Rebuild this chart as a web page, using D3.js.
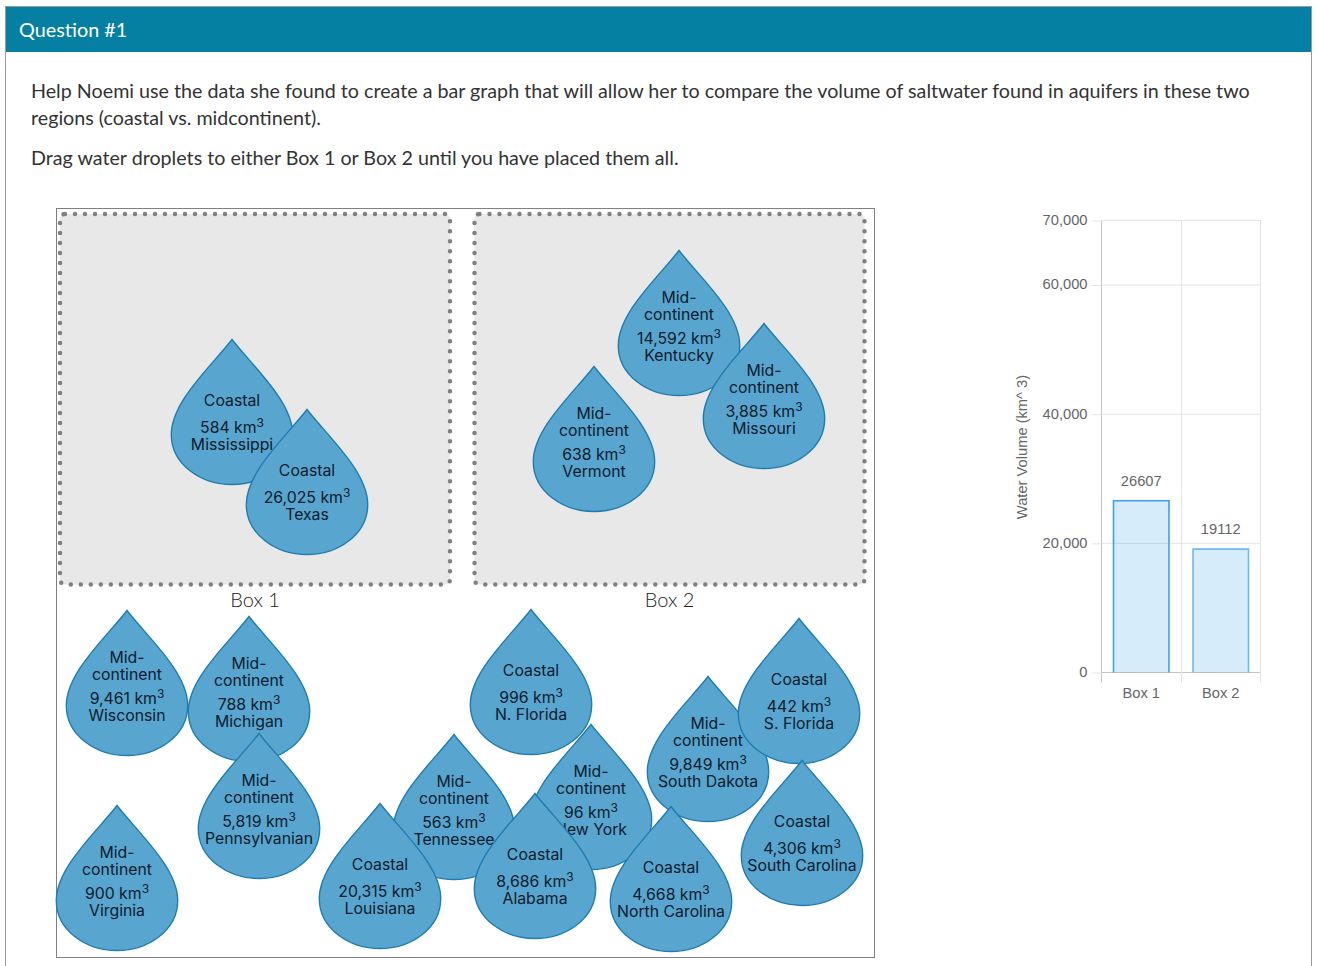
<!DOCTYPE html>
<html>
<head>
<meta charset="utf-8">
<script src="https://cdn.jsdelivr.net/npm/d3@7"></script>
<style>
html, body { margin: 0; padding: 0; background: #fff; overflow: hidden; }
svg { display: block; }
.para { font-family: Lato, sans-serif; font-size: 19.7px; fill: #333; }
.drop-text { font-family: Inter, sans-serif; font-size: 15.8px; fill: #0a1c2b; text-anchor: middle; }
.chart-text { font-family: "Liberation Sans", Arial, sans-serif; font-size: 14.7px; fill: #666; }
</style>
</head>
<body>
<script>
// bar chart values
var boxes = ["Box 1", "Box 2"];
var boxTotals = [26607, 19112];
var yTicks = [0, 20000, 40000, 60000, 70000];

// droplets, in drawing order (later ones sit on top)
var dropRegions = ["Coastal", "Coastal", "Mid-continent", "Mid-continent", "Mid-continent",
	"Mid-continent", "Mid-continent", "Mid-continent", "Mid-continent", "Coastal",
	"Mid-continent", "Coastal", "Mid-continent", "Mid-continent", "Coastal", "Coastal", "Coastal", "Coastal"];
var dropVolumes = ["584", "26,025", "14,592", "3,885", "638",
	"9,461", "788", "5,819", "900", "996",
	"563", "20,315", "96", "9,849", "8,686", "442", "4,306", "4,668"];
var dropPlaces = ["Mississippi", "Texas", "Kentucky", "Missouri", "Vermont",
	"Wisconsin", "Michigan", "Pennsylvanian", "Virginia", "N. Florida",
	"Tennessee", "Louisiana", "New York", "South Dakota", "Alabama", "S. Florida", "South Carolina", "North Carolina"];
var dropTipX = [232, 307, 679, 764, 594, 127, 249, 259, 117, 531, 454, 380, 591, 708, 535, 799, 802, 671];
var dropTipY = [339.5, 409.5, 250.5, 323.5, 366.5, 610.5, 616.5, 733.5, 805.5, 609.5, 734.5, 803.5, 724.5, 676.5, 793.5, 618.5, 760.5, 806.5];

var w = 1318, h = 966;
var svg = d3.select("body").append("svg").attr("width", w).attr("height", h);

// panel and header
svg.append("rect").attr("x", 5.5).attr("y", 6.5).attr("width", 1306).attr("height", 980)
	.attr("fill", "#fff").attr("stroke", "#999");
svg.append("rect").attr("x", 6).attr("y", 7).attr("width", 1305).attr("height", 45).attr("fill", "#0580a2");
svg.append("text").attr("x", 19).attr("y", 37).attr("fill", "#fff")
	.style("font-family", "Lato, sans-serif").style("font-size", "19.8px").text("Question #1");

var lines = [
	["Help Noemi use the data she found to create a bar graph that will allow her to compare the volume of saltwater found in aquifers in these two", 98],
	["regions (coastal vs. midcontinent).", 125],
	["Drag water droplets to either Box 1 or Box 2 until you have placed them all.", 165]
];
svg.selectAll("text.para").data(lines).enter().append("text")
	.attr("class", "para").attr("x", 31)
	.attr("y", function (d) { return d[1]; })
	.text(function (d) { return d[0]; });

// work area with the two drop boxes
svg.append("rect").attr("x", 56.5).attr("y", 208.5).attr("width", 818).attr("height", 749)
	.attr("fill", "#fff").attr("stroke", "#808080");

var boxLeft = d3.scaleOrdinal().domain(boxes).range([60, 474.5]);
svg.selectAll("rect.box").data(boxes).enter().append("rect")
	.attr("class", "box")
	.attr("x", function (d) { return boxLeft(d); })
	.attr("y", 214)
	.attr("width", 390).attr("height", 370.5).attr("rx", 5)
	.attr("fill", "#e8e8e8").attr("stroke", "#808080").attr("stroke-width", 4.5)
	.attr("stroke-linecap", "round").attr("stroke-dasharray", "0 10");
svg.selectAll("text.boxlabel").data(boxes).enter().append("text")
	.attr("class", "boxlabel")
	.attr("x", function (d) { return boxLeft(d) + 195; })
	.attr("y", 607).attr("text-anchor", "middle").attr("fill", "#222")
	.style("font-family", "Lato, sans-serif").style("font-size", "20px").style("font-weight", 300)
	.text(function (d) { return d; });

// droplets
function dropPath() {
	var p = d3.path();
	p.moveTo(0, 0);
	p.bezierCurveTo(20, 26, 60.7, 62, 60.7, 95);
	p.bezierCurveTo(60.7, 125, 31, 145, 0, 145);
	p.bezierCurveTo(-31, 145, -60.7, 125, -60.7, 95);
	p.bezierCurveTo(-60.7, 62, -20, 26, 0, 0);
	p.closePath();
	return p.toString();
}

var drops = svg.selectAll("g.drop").data(dropPlaces).enter().append("g")
	.attr("class", "drop")
	.attr("transform", function (d, i) { return "translate(" + dropTipX[i] + "," + dropTipY[i] + ")"; });

drops.append("path").attr("d", dropPath())
	.attr("fill", "#58a5d0").attr("stroke", "#1f7cb0").attr("stroke-width", 1.4);

drops.each(function (d, i) {
	var g = d3.select(this);
	if (dropRegions[i] == "Coastal") {
		g.append("text").attr("class", "drop-text").attr("y", 66.5).text("Coastal");
	} else {
		g.append("text").attr("class", "drop-text").attr("y", 52).text("Mid-");
		g.append("text").attr("class", "drop-text").attr("y", 69.5).text("continent");
	}
	var vol = g.append("text").attr("class", "drop-text").attr("y", 93);
	vol.append("tspan").text(dropVolumes[i] + " km");
	vol.append("tspan").attr("dy", -6).style("font-size", "12px").text("3");
	g.append("text").attr("class", "drop-text").attr("y", 110.5).text(d);
});

// bar chart
var y = d3.scaleLinear().domain([0, 70000]).range([672.5, 220.5]);
var x = d3.scaleBand().domain(boxes).range([1101.5, 1260.5]);

var yAxis = d3.axisLeft(y).tickValues(yTicks).tickSize(10).tickPadding(3).tickFormat(d3.format(","));
var xAxis = d3.axisBottom(x).tickSize(0).tickPadding(15);

var chart = svg.append("g");

// gridlines
chart.selectAll("line.hgrid").data(yTicks).enter().append("line")
	.attr("class", "hgrid")
	.attr("x1", 1101.5).attr("x2", 1260.5)
	.attr("y1", function (d) { return y(d); })
	.attr("y2", function (d) { return y(d); })
	.attr("stroke", function (d) { return d == 0 ? "#c4c4c4" : "#e4e4e4"; });
var vgrid = [1101.5, 1181.5, 1260.5];
chart.selectAll("line.vgrid").data(vgrid).enter().append("line")
	.attr("class", "vgrid")
	.attr("x1", function (d) { return d; })
	.attr("x2", function (d) { return d; })
	.attr("y1", 220.5).attr("y2", 682.5)
	.attr("stroke", function (d, i) { return i == 0 ? "#c4c4c4" : "#e4e4e4"; });

var gy = chart.append("g").attr("transform", "translate(1100.5,0)").call(yAxis);
gy.select(".domain").remove();
gy.selectAll("line").attr("stroke", "#e4e4e4").attr("transform", "translate(1,0)");
gy.selectAll("text").attr("class", "chart-text").attr("dy", "0.26em").style("font-family", "'Liberation Sans'");
gy.attr("font-family", null).attr("font-size", null);

var gx = chart.append("g").attr("transform", "translate(0,672.5)").call(xAxis);
gx.select(".domain").remove();
gx.selectAll("line").remove();
gx.selectAll("text").attr("class", "chart-text");
gx.attr("font-family", null).attr("font-size", null);

svg.append("text").attr("class", "chart-text")
	.attr("transform", "translate(1027,447) rotate(-90)")
	.attr("text-anchor", "middle")
	.text("Water Volume (km^ 3)");

var barInset = 12;
var barStroke = ["#3f9fe6", "#70b9ef"];
function barPath(i) {
	var p = d3.path();
	var x0 = x(boxes[i]) + barInset, x1 = x(boxes[i]) + x.bandwidth() - barInset;
	p.moveTo(x0, y(0));
	p.lineTo(x0, y(boxTotals[i]));
	p.lineTo(x1, y(boxTotals[i]));
	p.lineTo(x1, y(0));
	return p.toString();
}
chart.selectAll("path.bar").data(boxTotals).enter().append("path")
	.attr("class", "bar")
	.attr("d", function (d, i) { return barPath(i); })
	.attr("fill", "rgba(54,162,235,0.2)")
	.attr("stroke", function (d, i) { return barStroke[i]; })
	.attr("stroke-width", 1.6);

chart.selectAll("text.barlabel").data(boxTotals).enter().append("text")
	.attr("class", "barlabel chart-text")
	.attr("x", function (d, i) { return x(boxes[i]) + x.bandwidth() / 2; })
	.attr("y", function (d) { return y(d) - 15; })
	.attr("text-anchor", "middle")
	.text(function (d) { return d; });
</script>
</body>
</html>
